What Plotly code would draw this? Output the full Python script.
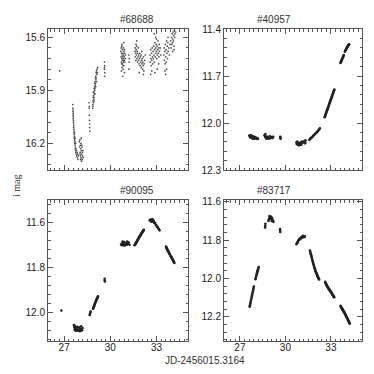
import plotly.graph_objects as go

# ---------------- data ----------------
titles = ["#68688", "#40957", "#90095", "#83717"]

# Panel 1: #68688
p1_x = [26.71,
        27.56,27.57,27.57,27.58,27.58,27.59,27.59,27.60,27.60,27.61,27.62,27.62,27.63,27.64,27.64,27.65,27.66,27.66,27.67,27.68,27.68,27.69,27.70,27.71,27.71,27.72,27.73,27.74,27.75,27.76,27.77,27.78,27.80,27.82,27.84,27.86,27.88,27.90,27.92,
        27.99,28.01,28.02,28.04,28.05,28.06,28.08,28.09,28.10,28.12,28.13,28.14,28.16,28.17,28.19,28.20,28.22,28.24,28.03,28.11,28.15,28.07,
        28.62,28.63,28.64,28.64,28.65,28.66,28.66,28.67,
        28.85,28.86,28.87,28.88,28.89,28.90,28.91,28.92,28.93,28.94,28.95,28.96,28.97,28.98,28.99,29.00,29.01,29.02,29.03,29.04,29.05,29.06,29.08,29.09,29.10,29.12,29.14,29.16,29.18,28.90,28.95,29.00,29.05,29.10,
        29.62,29.63,29.62,29.64,29.63,29.62,
        30.68,30.70,30.71,30.72,30.73,30.74,30.75,30.76,30.77,30.78,30.79,30.80,30.81,30.82,30.83,30.84,30.85,30.86,30.87,30.88,30.89,30.90,30.91,30.92,30.93,30.95,30.97,30.99,30.72,30.76,30.80,30.84,30.88,30.92,30.74,30.86,
        31.20,31.22,31.21,31.23,
        31.60,31.62,31.63,31.65,31.66,31.68,31.70,31.71,31.73,31.75,31.77,31.78,31.80,31.82,31.84,31.85,31.87,31.90,31.92,31.94,31.96,31.98,32.00,32.02,32.04,32.06,32.08,32.10,32.12,32.14,32.16,32.18,32.20,32.24,32.28,31.72,31.88,32.05,32.15,31.67,
        32.58,32.60,32.62,32.64,32.66,32.68,32.70,32.72,32.74,32.76,32.78,32.80,32.82,32.84,32.86,32.88,32.90,32.92,32.94,32.96,32.98,33.00,33.02,33.04,33.06,33.08,33.10,33.12,33.14,33.16,33.18,33.20,33.24,33.28,32.85,32.95,33.05,32.90,32.70,33.15,32.62,33.00,
        33.48,33.50,33.52,33.54,33.56,33.58,33.60,33.62,33.64,33.66,33.68,33.70,33.72,33.74,33.76,33.80,33.84,33.88,33.92,33.95,33.98,34.00,34.02,34.04,34.06,34.08,34.10,34.12,34.14,34.16,34.18,34.20,34.22,34.25,33.55,33.65,33.75,34.05,34.15,33.60]
p1_y = [15.79,
        15.98,16.00,16.02,16.01,16.04,16.03,16.06,16.05,16.08,16.07,16.09,16.11,16.10,16.12,16.14,16.13,16.15,16.17,16.16,16.18,16.14,16.20,16.19,16.21,16.17,16.23,16.22,16.20,16.24,16.25,16.23,16.26,16.24,16.27,16.25,16.28,16.26,16.29,16.27,
        16.19,16.22,16.18,16.25,16.21,16.27,16.23,16.20,16.28,16.24,16.30,16.26,16.22,16.29,16.25,16.27,16.24,16.28,16.26,16.17,16.21,16.29,
        15.97,16.00,15.99,16.04,16.07,16.09,16.11,16.13,
        16.00,15.98,15.96,15.99,15.94,15.97,15.93,15.95,15.91,15.94,15.89,15.92,15.88,15.90,15.86,15.89,15.85,15.87,15.83,15.86,15.82,15.84,15.80,15.83,15.79,15.81,15.78,15.80,15.77,15.91,15.96,15.92,15.88,15.85,
        15.74,15.76,15.78,15.80,15.82,15.77,
        15.68,15.71,15.66,15.74,15.69,15.72,15.65,15.77,15.70,15.73,15.67,15.75,15.71,15.69,15.78,15.72,15.66,15.74,15.70,15.76,15.68,15.73,15.71,15.80,15.69,15.74,15.72,15.70,15.79,15.64,15.82,15.76,15.63,15.67,15.75,15.73,
        15.70,15.74,15.78,15.72,
        15.68,15.66,15.71,15.69,15.73,15.67,15.70,15.65,15.72,15.68,15.74,15.69,15.71,15.66,15.73,15.70,15.75,15.72,15.69,15.76,15.71,15.74,15.70,15.77,15.73,15.75,15.72,15.78,15.74,15.76,15.71,15.79,15.75,15.73,15.70,15.62,15.80,15.68,15.81,15.64,
        15.70,15.74,15.67,15.72,15.76,15.69,15.73,15.66,15.71,15.75,15.68,15.72,15.65,15.70,15.74,15.67,15.63,15.71,15.66,15.69,15.64,15.68,15.72,15.65,15.70,15.67,15.62,15.69,15.66,15.71,15.64,15.68,15.66,15.70,15.58,15.60,15.78,15.80,15.79,15.75,15.81,15.61,
        15.70,15.66,15.73,15.68,15.75,15.64,15.71,15.67,15.74,15.62,15.69,15.65,15.72,15.63,15.68,15.66,15.70,15.64,15.62,15.66,15.60,15.64,15.58,15.63,15.61,15.57,15.62,15.59,15.65,15.56,15.60,15.58,15.55,15.57,15.79,15.78,15.60,15.68,15.67,15.81]

# Panel 2: #40957
p2_x = [27.62,27.66,27.70,27.74,27.78,27.82,27.86,27.90,27.95,28.00,28.05,28.10,28.15,28.19,27.68,27.76,27.84,27.92,
        28.62,28.66,28.70,28.74,28.80,28.85,28.90,28.95,29.00,29.05,29.10,29.15,29.20,28.68,28.88,28.98,
        29.66,29.67,29.68,
        30.72,30.76,30.80,30.84,30.88,30.92,30.96,31.00,31.04,31.08,31.12,31.16,31.20,30.78,30.90,31.02,31.30,31.31,31.32,
        31.58,31.63,31.68,31.73,31.78,31.83,31.88,31.93,31.98,32.03,32.08,32.13,32.18,32.23,32.27,
        32.59,32.61,32.63,32.65,32.67,32.69,32.71,32.73,32.75,32.77,32.79,32.81,32.83,32.85,32.87,32.89,32.91,32.93,32.95,32.97,32.99,33.01,33.03,33.05,33.07,33.09,33.11,33.13,33.15,33.17,33.19,33.21,33.23,
        33.63,33.65,33.67,33.69,33.71,33.73,33.75,33.77,33.79,33.81,33.83,33.85,33.92,33.94,33.96,33.98,34.00,34.02,34.04,34.06,34.08,34.10,34.12,34.14,34.16,34.18,34.20]
p2_y = [12.080,12.085,12.078,12.090,12.088,12.095,12.085,12.092,12.100,12.090,12.098,12.095,12.102,12.100,12.092,12.080,12.100,12.088,
        12.078,12.090,12.085,12.100,12.092,12.088,12.095,12.090,12.098,12.092,12.090,12.095,12.088,12.070,12.100,12.085,
        12.088,12.095,12.100,
        12.125,12.135,12.130,12.140,12.128,12.138,12.132,12.125,12.135,12.120,12.128,12.118,12.122,12.118,12.142,12.140,12.130,12.120,12.110,
        12.108,12.100,12.098,12.092,12.088,12.082,12.078,12.072,12.068,12.062,12.058,12.052,12.046,12.040,12.034,
        11.963,11.957,11.951,11.946,11.941,11.935,11.929,11.924,11.918,11.913,11.907,11.902,11.896,11.891,11.885,11.879,11.874,11.868,11.863,11.857,11.852,11.846,11.841,11.835,11.830,11.824,11.818,11.813,11.808,11.802,11.796,11.791,11.786,
        11.617,11.612,11.608,11.603,11.599,11.594,11.590,11.585,11.581,11.576,11.571,11.566,11.545,11.541,11.537,11.533,11.530,11.526,11.522,11.518,11.515,11.511,11.508,11.505,11.502,11.499,11.497]

# Panel 3: #90095
p3_x = [26.82,
        27.64,27.67,27.70,27.73,27.76,27.79,27.82,27.86,27.90,27.96,28.00,28.04,28.08,28.12,28.16,28.20,27.68,27.75,27.85,28.02,28.10,
        28.66,28.68,28.70,28.72,
        28.88,28.90,28.92,28.94,28.96,28.98,29.00,29.02,29.04,29.06,29.08,29.10,29.12,29.14,29.16,29.18,29.20,
        29.63,29.64,29.65,
        30.70,30.74,30.78,30.82,30.86,30.90,30.95,31.00,31.05,31.10,31.15,31.20,31.25,30.80,30.92,31.08,
        31.58,31.60,31.62,31.64,31.66,31.68,31.70,31.72,31.74,31.76,31.78,31.80,31.82,31.84,31.86,31.88,31.90,31.92,31.94,31.96,31.98,32.00,32.02,32.04,32.06,32.08,32.10,32.12,32.14,32.16,32.18,
        32.56,32.60,32.64,32.68,32.72,32.76,32.80,32.84,32.88,32.92,32.96,33.00,33.04,33.08,33.12,33.16,33.20,32.66,32.74,32.82,
        33.62,33.64,33.66,33.68,33.70,33.72,33.74,33.76,33.78,33.80,33.82,33.84,33.86,33.92,33.94,33.96,33.98,34.00,34.02,34.04,34.06,34.08,34.10,34.12,34.14,34.16]
p3_y = [11.99,
        12.055,12.065,12.060,12.072,12.068,12.078,12.070,12.075,12.080,12.065,12.075,12.070,12.080,12.072,12.078,12.068,12.075,12.080,12.062,12.082,12.060,
        12.010,12.005,12.000,11.995,
        11.982,11.979,11.975,11.972,11.968,11.964,11.960,11.957,11.953,11.950,11.946,11.943,11.940,11.937,11.934,11.931,11.928,
        11.850,11.858,11.862,
        11.700,11.695,11.702,11.690,11.698,11.688,11.694,11.700,11.692,11.686,11.696,11.690,11.700,11.686,11.704,11.700,
        11.702,11.700,11.698,11.695,11.693,11.690,11.688,11.686,11.684,11.681,11.678,11.676,11.673,11.671,11.668,11.666,11.664,11.662,11.660,11.657,11.655,11.652,11.650,11.648,11.646,11.644,11.642,11.640,11.638,11.636,11.634,
        11.592,11.588,11.594,11.590,11.596,11.592,11.598,11.600,11.605,11.604,11.612,11.615,11.620,11.622,11.628,11.630,11.636,11.598,11.586,11.594,
        11.708,11.711,11.714,11.717,11.720,11.723,11.726,11.728,11.730,11.733,11.736,11.739,11.742,11.748,11.751,11.754,11.756,11.758,11.761,11.764,11.766,11.768,11.771,11.774,11.777,11.780]

# Panel 4: #83717
p4_x = [27.64,27.66,27.68,27.70,27.72,27.74,27.76,27.78,27.80,27.82,27.84,27.86,27.88,27.90,27.92,
        28.02,28.04,28.06,28.08,28.10,28.12,28.14,28.16,28.18,28.20,28.22,28.24,
        28.66,28.67,28.68,
        28.88,28.91,28.94,28.97,29.00,29.03,29.06,29.09,29.12,29.15,29.18,29.21,28.95,29.05,29.10,
        29.64,29.65,29.66,
        30.72,30.76,30.80,30.84,30.88,30.92,30.96,31.00,31.04,31.08,31.12,31.16,31.20,31.24,31.28,30.82,30.98,31.14,
        31.62,31.64,31.66,31.68,31.70,31.72,31.74,31.76,31.78,31.80,31.82,31.84,31.86,31.88,31.90,31.92,31.94,31.96,31.98,32.00,32.02,32.04,32.06,32.08,32.10,32.12,32.14,32.16,32.18,32.20,32.22,
        32.62,32.64,32.66,32.68,32.70,32.72,32.74,32.76,32.78,32.80,32.82,32.84,32.86,32.88,32.90,32.92,32.94,32.96,32.98,33.00,33.02,33.04,33.06,33.08,33.10,33.12,33.14,33.16,33.18,33.20,33.22,
        33.64,33.66,33.68,33.70,33.72,33.74,33.76,33.78,33.80,33.82,33.84,33.86,33.88,33.90,33.92,33.94,33.96,33.98,34.00,34.02,34.04,34.06,34.08,34.10,34.12,34.14,34.16,34.18,34.20,34.22,34.24]
p4_y = [12.148,12.140,12.133,12.126,12.118,12.110,12.102,12.095,12.088,12.080,12.073,12.066,12.058,12.050,12.042,
        12.004,11.998,11.992,11.986,11.980,11.974,11.968,11.962,11.957,11.952,11.946,11.940,
        11.735,11.725,11.715,
        11.700,11.692,11.685,11.690,11.682,11.688,11.680,11.690,11.686,11.695,11.700,11.705,11.675,11.678,11.700,
        11.742,11.750,11.758,
        11.822,11.815,11.810,11.804,11.800,11.796,11.792,11.790,11.786,11.788,11.784,11.782,11.785,11.780,11.782,11.812,11.795,11.778,
        11.855,11.861,11.868,11.874,11.880,11.886,11.892,11.898,11.905,11.911,11.918,11.923,11.928,11.934,11.940,11.945,11.950,11.955,11.960,11.964,11.968,11.972,11.976,11.980,11.984,11.988,11.992,11.995,11.998,12.002,12.005,
        12.018,12.022,12.026,12.029,12.032,12.035,12.038,12.041,12.044,12.047,12.050,12.052,12.054,12.056,12.058,12.061,12.064,12.066,12.068,12.070,12.072,12.075,12.078,12.081,12.084,12.086,12.088,12.091,12.094,12.096,12.098,
        12.142,12.146,12.150,12.153,12.156,12.158,12.160,12.163,12.166,12.169,12.172,12.174,12.176,12.179,12.182,12.186,12.190,12.193,12.196,12.199,12.202,12.205,12.208,12.211,12.214,12.218,12.222,12.225,12.228,12.232,12.236]

x_range = [25.95, 35.05]
x_ticks = [27, 30, 33]
y_ranges = [[16.35, 15.553], [12.3, 11.4], [12.125, 11.502], [12.326, 11.591]]
y_major = [0.3, 0.3, 0.2, 0.2]
y_minor = [0.06, 0.06, 0.04, 0.04]
y_tick0 = [15.6, 11.4, 11.6, 11.6]

# ---------------- figure ----------------
W = H = 374
L, R, T, B = 40, 20, 21, 41
pw, ph = W - L - R, H - T - B
xdoms = [[0, 140 / pw], [(216 - L) / pw, 1.0]]
ydoms = [[(H - B - 162) / ph, 1.0], [0, (H - B - 192) / ph]]

font = "Liberation Sans, Arial, sans-serif"
fig = go.Figure()
data = [(p1_x, p1_y), (p2_x, p2_y), (p3_x, p3_y), (p4_x, p4_y)]
msize = [1.7, 2.6, 2.6, 2.6]
mcol = ["#4a4a4a", "#222222", "#222222", "#222222"]

for i, (xs, ys) in enumerate(data):
    k = "" if i == 0 else str(i + 1)
    fig.add_trace(go.Scatter(x=xs, y=ys, mode="markers", xaxis="x" + k, yaxis="y" + k,
                             marker=dict(size=msize[i], color=mcol[i], line=dict(width=0)),
                             showlegend=False, hoverinfo="skip"))
    col, row = i % 2, i // 2
    axcommon = dict(showline=True, linecolor="#555", linewidth=1, mirror="allticks",
                    ticks="inside", ticklen=5, tickwidth=1, tickcolor="#555",
                    showgrid=False, zeroline=False,
                    tickfont=dict(family=font, size=10, color="#222"))
    fig.layout["xaxis" + k] = dict(axcommon, domain=xdoms[col], range=x_range,
                                   anchor="y" + k, tickmode="array", tickvals=x_ticks,
                                   showticklabels=(row == 1), ticklabelstandoff=-3,
                                   minor=dict(dtick=0.3, tick0=27, ticks="inside", ticklen=2.5,
                                              tickcolor="#555", showgrid=False))
    fig.layout["yaxis" + k] = dict(axcommon, domain=ydoms[row], range=y_ranges[i],
                                   anchor="x" + k, tick0=y_tick0[i], dtick=y_major[i],
                                   tickformat=".1f",
                                   minor=dict(dtick=y_minor[i], tick0=y_tick0[i], ticks="inside",
                                              ticklen=2.5, tickcolor="#555", showgrid=False))
    cx = (xdoms[col][0] + xdoms[col][1]) / 2
    fig.add_annotation(text=titles[i], xref="paper", yref="paper", x=cx, y=ydoms[row][1],
                       yshift=10, yanchor="middle", showarrow=False,
                       font=dict(family=font, size=10, color="#333"))

fig.add_annotation(text="i mag", xref="paper", yref="paper", x=-0.102, y=0.5, textangle=-90,
                   showarrow=False, xanchor="center", yanchor="middle",
                   font=dict(family="Liberation Serif, serif", size=10, color="#333"))
fig.add_annotation(text="JD-2456015.3164", xref="paper", yref="paper", x=(197 - L) / pw, y=0,
                   yshift=-19, yanchor="middle", showarrow=False,
                   font=dict(family=font, size=10, color="#333"))

fig.update_layout(width=W, height=H, margin=dict(l=L, r=R, t=T, b=B),
                  paper_bgcolor="white", plot_bgcolor="white")
fig.write_html("out.html")
